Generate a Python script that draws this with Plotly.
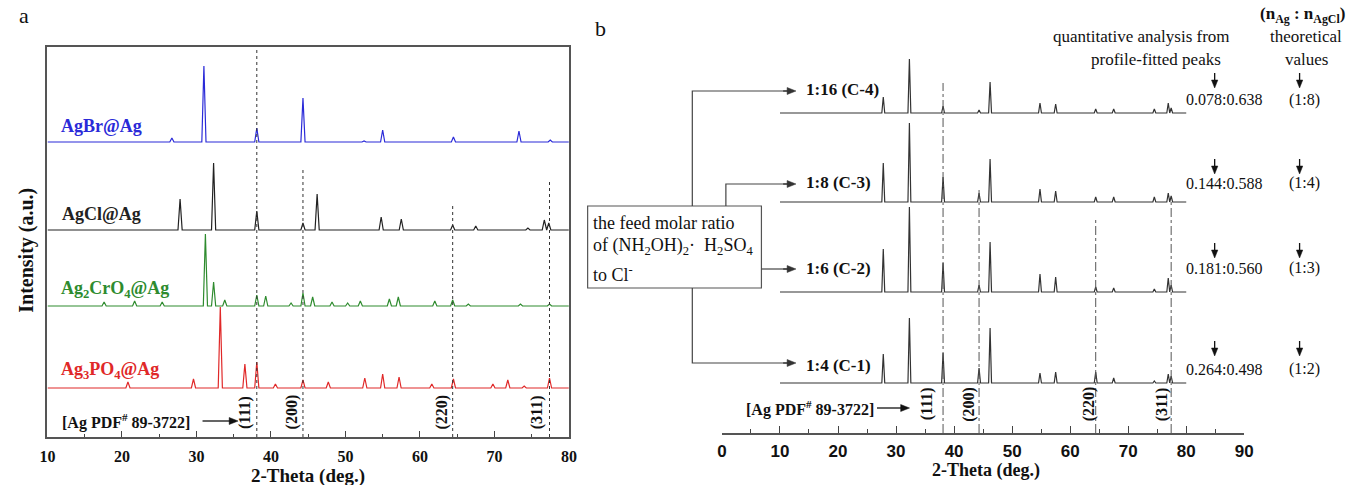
import plotly.graph_objects as go

W, H = 1355, 485

# ---------------- data (peak positions in 2-theta, intensities in a.u.) ----------------
agbr_pos = [26.7, 31.0, 38.1, 44.3, 52.5, 55.0, 64.5, 73.3, 77.5]
agbr_int = [4, 76, 14, 44, 1, 12, 5, 11, 2]

agcl_pos = [27.8, 32.3, 38.1, 44.3, 46.2, 54.8, 57.5, 64.4, 67.5, 74.5, 76.7, 77.3]
agcl_int = [31, 67, 19, 7, 36, 13, 11, 5, 4, 2, 10, 7]

agcro_pos = [17.6, 21.7, 25.4, 31.2, 32.3, 33.8, 38.1, 39.3, 42.7, 44.3, 45.6, 48.2,
             50.3, 52.0, 55.9, 57.1, 62.0, 64.4, 66.5, 73.5, 77.4]
agcro_int = [4, 5, 4, 72, 24, 6, 11, 10, 3, 13, 9, 4, 3, 5, 7, 9, 5, 6, 2, 2, 2]

agpo_pos = [20.8, 29.6, 33.2, 36.5, 38.1, 40.6, 44.3, 47.7, 52.6, 55.0, 57.2, 61.6,
            64.5, 69.8, 71.8, 74.0, 77.4]
agpo_int = [6, 9, 81, 24, 26, 4, 8, 6, 10, 14, 11, 4, 9, 4, 8, 2, 10]

c_pos = [27.8, 32.3, 38.1, 44.3, 46.2, 54.8, 57.5, 64.4, 67.5, 74.5, 76.9, 77.4]
c4_int = [16, 54, 7, 3, 31, 10, 9, 4, 4, 4, 10, 5]
c3_int = [39, 79, 25, 9, 43, 13, 11, 5, 5, 5, 9, 6]
c2_int = [43, 85, 29, 7, 50, 18, 15, 5, 4, 3, 14, 7]
c1_int = [29, 65, 30, 15, 55, 10, 11, 11, 5, 2, 9, 7]

ag_ref_pos = [38.1, 44.3, 64.4, 77.4]
ag_ref_hkl = ["(111)", "(200)", "(220)", "(311)"]

quant_vals = ["0.078:0.638", "0.144:0.588", "0.181:0.560", "0.264:0.498"]
theo_vals = ["(1:8)", "(1:4)", "(1:3)", "(1:2)"]
sample_labels = ["1:16 (C-4)", "1:8 (C-3)", "1:6 (C-2)", "1:4 (C-1)"]

# ---------------- layout helpers ----------------
def px(x):
    return x / W

def py(y):
    return 1 - y / H

SERIF = "Liberation Serif, Times New Roman, serif"
SANSN = "Liberation Sans Narrow, Arial Narrow, Liberation Sans, sans-serif"


def profile(pos, inten, base, w=0.28, x0=10, x1=80):
    xs, ys = [x0], [base]
    for p, h in sorted(zip(pos, inten)):
        xs += [p - w, p, p + w]
        ys += [base, base + h, base]
    xs.append(x1)
    ys.append(base)
    return xs, ys


fig = go.Figure()

# panel a series
a_series = [
    (agbr_pos, agbr_int, 295, "#2a2ad8"),
    (agcl_pos, agcl_int, 207, "#222222"),
    (agcro_pos, agcro_int, 131, "#2e8b2e"),
    (agpo_pos, agpo_int, 49, "#e02828"),
]
for pos, inten, base, col in a_series:
    xs, ys = profile(pos, inten, base)
    fig.add_trace(go.Scatter(x=xs, y=ys, mode="lines", line=dict(color=col, width=1.2),
                             xaxis="x", yaxis="y", showlegend=False, hoverinfo="skip"))

a_ref_top = [390, 270, 232, 255]
for p, t in zip(ag_ref_pos, a_ref_top):
    fig.add_trace(go.Scatter(x=[p, p], y=[0, t], mode="lines",
                             line=dict(color="#333", width=1, dash="dot"),
                             xaxis="x", yaxis="y", showlegend=False, hoverinfo="skip"))

# panel b series
b_series = [(c4_int, 320), (c3_int, 231), (c2_int, 141), (c1_int, 50)]
for inten, base in b_series:
    xs, ys = profile(c_pos, inten, base, w=0.25)
    fig.add_trace(go.Scatter(x=xs, y=ys, mode="lines", line=dict(color="#333", width=1.2),
                             xaxis="x2", yaxis="y2", showlegend=False, hoverinfo="skip"))

b_ref_top = [350, 246, 213, 233]
for p, t in zip(ag_ref_pos, b_ref_top):
    fig.add_trace(go.Scatter(x=[p, p], y=[0, t], mode="lines",
                             line=dict(color="#555", width=1, dash="dashdot"),
                             xaxis="x2", yaxis="y2", showlegend=False, hoverinfo="skip"))

ann = []
shapes = []

def text(x, y, s, size=15, color="#111", bold=False, xanchor="center", angle=0, font=SERIF):
    if bold:
        s = "<b>" + s + "</b>"
    ann.append(dict(x=px(x), y=py(y), xref="paper", yref="paper", text=s, showarrow=False,
                    xanchor=xanchor, yanchor="middle", textangle=angle,
                    font=dict(family=font, size=size, color=color)))

def seg(pts, color="#444", width=1.2):
    path = "M " + " L ".join(f"{px(x)},{py(y)}" for x, y in pts)
    shapes.append(dict(type="path", xref="paper", yref="paper", path=path,
                       line=dict(color=color, width=width)))

def head(pts, color="#111"):
    path = "M " + " L ".join(f"{px(x)},{py(y)}" for x, y in pts) + " Z"
    shapes.append(dict(type="path", xref="paper", yref="paper", path=path,
                       fillcolor=color, line=dict(color=color, width=0.5)))

def arrow_right(x0, x1, y, color="#111", width=1.3, hl=9, hw=3.5):
    seg([(x0, y), (x1 - hl + 1, y)], color=color, width=width)
    head([(x1 - hl, y - hw), (x1, y), (x1 - hl, y + hw)], color=color)

def arrow_down(x, y0, y1, color="#111", width=1.3, hl=8, hw=3.2):
    seg([(x, y0), (x, y1 - hl + 1)], color=color, width=width)
    head([(x - hw, y1 - hl), (x, y1), (x + hw, y1 - hl)], color=color)

# panel letters
text(16, 16, "a", size=22)
text(600, 28, "b", size=22)

# panel a labels
text(52, 126, "AgBr@Ag", size=18, color="#2a2ad8", bold=True, xanchor="left")
text(53, 214, "AgCl@Ag", size=18, color="#222", bold=True, xanchor="left")
text(52, 289, "Ag<sub>2</sub>CrO<sub>4</sub>@Ag", size=18, color="#2e8b2e", bold=True, xanchor="left")
text(52, 370, "Ag<sub>3</sub>PO<sub>4</sub>@Ag", size=18, color="#e02828", bold=True, xanchor="left")
text(53, 421, "[Ag PDF<sup>#</sup> 89-3722]", size=16, bold=True, xanchor="left")
arrow_right(197, 233, 421)
for x, s in zip([240, 288, 440, 536], ag_ref_hkl):
    text(x, 412, s, size=16, bold=True, angle=-90)
text(19, 250, "Intensity (a.u.)", size=20, bold=True, angle=-90)
text(304, 476, "2-Theta (deg.)", size=19, bold=True)

# panel b labels
for y, s in zip([89, 182, 268, 365], sample_labels):
    text(806, y, s, size=17, bold=True, xanchor="left")
text(745, 408, "[Ag PDF<sup>#</sup> 89-3722]", size=16, bold=True, xanchor="left")
arrow_right(880, 913, 408)
for x, s in zip([931, 973, 1095, 1169], ag_ref_hkl):
    text(x, 404, s, size=16, bold=True, angle=-90)
text(990, 470, "2-Theta (deg.)", size=18, bold=True)

# box text
text(590, 223, "the feed molar ratio", size=18, xanchor="left")
text(590, 247, "of (NH<sub>2</sub>OH)<sub>2</sub>·  H<sub>2</sub>SO<sub>4</sub>", size=18, xanchor="left")
text(590, 273, "to Cl<sup>-</sup>", size=18, xanchor="left")

# box and connectors
shapes.append(dict(type="rect", xref="paper", yref="paper", x0=px(587), x1=px(763),
                   y0=py(288), y1=py(206), line=dict(color="#555", width=1.2)))
seg([(693, 206), (693, 91), (790, 91)])
seg([(727, 206), (727, 184), (790, 184)])
seg([(763, 269), (790, 269)])
seg([(693, 288), (693, 363), (790, 363)])
for y in [91, 184, 269, 363]:
    arrow_right(785, 798, y, color="#333")

# right-hand values
for y, q, t in zip([100, 183, 268, 369], quant_vals, theo_vals):
    text(1231, y, q, size=16)
    text(1313, y, t, size=16)
for ytip in [88, 174, 258, 356]:
    arrow_down(1222, ytip - 15, ytip)
    arrow_down(1308, ytip - 15, ytip)

text(1311, 15, "(n<sub>Ag</sub> : n<sub>AgCl</sub>)", size=17, bold=True)
text(1148, 37, "quantitative analysis from", size=17)
text(1314, 37, "theoretical", size=17)
text(1163, 59, "profile-fitted peaks", size=17)
text(1315, 59, "values", size=17)

fig.update_layout(
    width=W, height=H,
    margin=dict(l=0, r=0, t=0, b=0),
    paper_bgcolor="white", plot_bgcolor="white",
    showlegend=False,
    xaxis=dict(domain=[px(40), px(568)], range=[10, 80], anchor="y",
               showline=True, mirror=True, linecolor="#555", linewidth=1.5,
               ticks="inside", ticklen=6, tickwidth=1.2, tickcolor="#444", dtick=10, tick0=10,
               minor=dict(ticks="inside", ticklen=3, dtick=5, tick0=10, tickcolor="#444"),
               showgrid=False, zeroline=False, ticklabelstandoff=4,
               tickfont=dict(family=SERIF, size=16, color="#111"), tickprefix="<b>", ticksuffix="</b>"),
    yaxis=dict(domain=[py(437), py(47)], range=[0, 390], anchor="x",
               showline=True, mirror=True, linecolor="#555", linewidth=1.5,
               showticklabels=False, ticks="", showgrid=False, zeroline=False),
    xaxis2=dict(domain=[px(723), px(1252)], range=[0, 90], anchor="y2",
                showline=True, linecolor="#555", linewidth=1.5,
                ticks="inside", ticklen=7, tickwidth=1.2, tickcolor="#444", dtick=10, tick0=0,
                minor=dict(ticks="inside", ticklen=4, dtick=5, tick0=0, tickcolor="#444"),
                showgrid=False, zeroline=False, ticklabelstandoff=2,
                tickfont=dict(family=SANSN, size=17, color="#111"), tickprefix="<b>", ticksuffix="</b>"),
    yaxis2=dict(domain=[py(433), py(20)], range=[0, 413], anchor="x2", visible=False),
    annotations=ann,
    shapes=shapes,
)

fig.write_html("out.html", config={"displayModeBar": False},
               post_script="document.body.style.margin='0px';")
